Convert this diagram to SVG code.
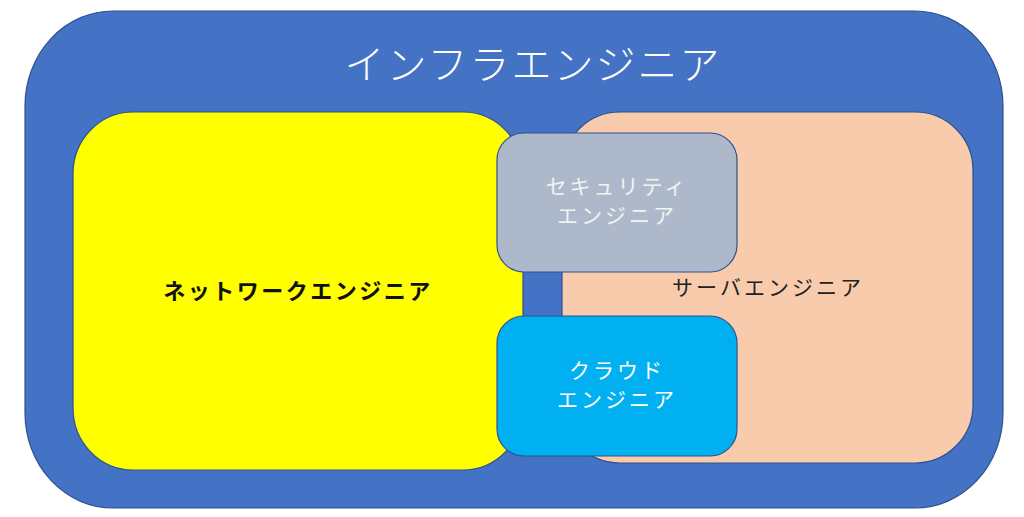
<svg xmlns="http://www.w3.org/2000/svg" width="1024" height="517" viewBox="0 0 1024 517">
<style>
.box{stroke:#2F528F;stroke-width:1.2}
.t{font-family:"Noto Sans CJK JP","Noto Sans",sans-serif;text-anchor:middle}
</style>
<rect width="1024" height="517" fill="#ffffff"/>
<g id="infra">
<rect class="box" x="25" y="11" width="978" height="497" rx="88" ry="95" fill="#4472C4"/>
<text class="t" x="533" y="79" font-size="40" font-weight="300" fill="#ffffff" letter-spacing="2">インフラエンジニア</text>
</g>
<g id="network">
<rect class="box" x="73" y="112" width="450" height="358" rx="60" ry="62" fill="#FFFF00"/>
<text class="t" x="298" y="299" font-size="22" font-weight="700" fill="#111111" letter-spacing="2.5">ネットワークエンジニア</text>
</g>
<g id="server">
<rect class="box" x="562" y="112" width="411" height="351" rx="58" ry="58" fill="#F8CBAD"/>
<text class="t" x="768" y="295" font-size="21" font-weight="400" fill="#222222" letter-spacing="3">サーバエンジニア</text>
</g>
<g id="security">
<rect class="box" x="497" y="133" width="240" height="139" rx="27" ry="27" fill="#ADB9CA"/>
<text class="t" x="617" y="194" font-size="21" fill="#F2F2F2" letter-spacing="3">セキュリティ</text>
<text class="t" x="617" y="223" font-size="21" fill="#F2F2F2" letter-spacing="3">エンジニア</text>
</g>
<g id="cloud">
<rect class="box" x="497" y="316" width="240" height="140" rx="27" ry="27" fill="#00B0F0"/>
<text class="t" x="617" y="378" font-size="21" fill="#ffffff" letter-spacing="3">クラウド</text>
<text class="t" x="617" y="407" font-size="21" fill="#ffffff" letter-spacing="3">エンジニア</text>
</g>
<g id="connectors"></g>
</svg>
